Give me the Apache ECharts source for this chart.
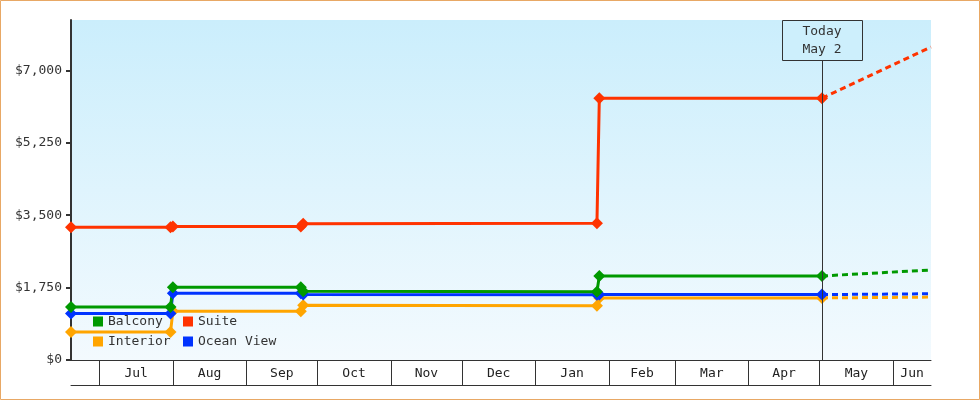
<!DOCTYPE html>
<html lang="en">
<head>
<meta charset="UTF-8">
<title>Cabin price history</title>
<script src="https://cdn.jsdelivr.net/npm/echarts@6/dist/echarts.min.js"></script>
<style>
  html, body { margin: 0; padding: 0; background: #fff; }
  #chart { width: 980px; height: 400px; }
</style>
</head>
<body>
<div id="chart"></div>
<script>
  // price history
  const dates = ['2022-06-19', '2022-07-31', '2022-08-01', '2022-09-24', '2022-09-25', '2023-01-27', '2023-01-28', '2023-05-02'];
  const balcony   = [1280, 1280, 1755, 1755, 1660, 1650, 2030, 2030];
  const suite     = [3210, 3210, 3225, 3225, 3290, 3305, 6325, 6325];
  const interior  = [675, 675, 1175, 1175, 1320, 1310, 1500, 1500];
  const oceanView = [1125, 1125, 1615, 1615, 1580, 1576, 1580, 1580];

  // forecast, today -> end of range
  const forecastDates = ['2023-05-02', '2023-06-17'];
  const balconyForecast   = [2030, 2175];
  const suiteForecast     = [6325, 7560];
  const interiorForecast  = [1500, 1520];
  const oceanViewForecast = [1580, 1600];

  const today = '2023-05-02';
  const todayText = 'Today\nMay 2';
  const rangeStart = '2022-06-19';
  const rangeEnd = '2023-06-17';
  const monthNames = ['Jul', 'Aug', 'Sep', 'Oct', 'Nov', 'Dec', 'Jan', 'Feb', 'Mar', 'Apr', 'May', 'Jun'];
  const yTicks = [0, 1750, 3500, 5250, 7000];
  const yMax = 8214;

  const font = 'DejaVu Sans Mono';
  const t = s => new Date(s + 'T00:00:00').getTime();
  const pairs = (ds, vs) => ds.map((d, i) => [t(d), vs[i]]);

  const tMin = t(rangeStart), tMax = t(rangeEnd);
  const monthStarts = [], monthMids = [];
  for (let i = 0; i < monthNames.length; i++) {
    const s = new Date(2022, 6 + i, 1).getTime();
    const e = new Date(2022, 7 + i, 1).getTime();
    monthStarts.push(s);
    monthMids.push((s + Math.min(e, tMax)) / 2);
  }

  const colors = { 'Balcony': '#009900', 'Suite': '#ff3300', 'Interior': '#ffa500', 'Ocean View': '#0033ff' };

  function history(name, vs) {
    return {
      name: name, type: 'line', data: pairs(dates, vs),
      symbol: 'diamond', symbolSize: 12,
      lineStyle: { width: 3, color: colors[name] },
      itemStyle: { color: colors[name], borderWidth: 0 }
    };
  }
  function forecast(name, vs) {
    return {
      name: name, type: 'line', data: pairs(forecastDates, vs),
      symbol: 'none',
      lineStyle: { width: 3, color: colors[name], type: [6, 4] },
      itemStyle: { color: colors[name] }
    };
  }

  // draw order: interior at the bottom, suite on top
  const series = [
    forecast('Interior', interiorForecast),
    history('Interior', interior),
    forecast('Ocean View', oceanViewForecast),
    history('Ocean View', oceanView),
    forecast('Balcony', balconyForecast),
    history('Balcony', balcony),
    forecast('Suite', suiteForecast),
    history('Suite', suite)
  ];
  series[0].markLine = {
    silent: true, symbol: 'none', animation: false,
    label: { show: false },
    lineStyle: { color: '#333', width: 1, type: 'solid' },
    data: [{ xAxis: t(today) }]
  };

  const legendBase = {
    orient: 'vertical', top: 315, padding: 0,
    itemWidth: 10, itemHeight: 10, itemGap: 7, icon: 'rect',
    textStyle: { fontFamily: font, fontSize: 13, color: '#333' }
  };

  const chart = echarts.init(document.getElementById('chart'));
  chart.setOption({
    animation: false,
    backgroundColor: '#fff',
    grid: {
      left: 71, right: 49, top: 20, bottom: 40, show: true, borderWidth: 0,
      backgroundColor: new echarts.graphic.LinearGradient(0, 0, 0, 1, [
        { offset: 0, color: '#cbeefc' },
        { offset: 1, color: '#f3fafe' }
      ])
    },
    legend: [
      Object.assign({ left: 93, data: ['Balcony', 'Interior'] }, legendBase),
      Object.assign({ left: 183, data: ['Suite', 'Ocean View'] }, legendBase)
    ],
    xAxis: [{
      type: 'value', min: tMin, max: tMax,
      axisLine: { show: true, lineStyle: { color: '#333', width: 1 } },
      axisTick: { show: true, customValues: monthStarts, length: 25, lineStyle: { color: '#333', width: 1 } },
      axisLabel: {
        customValues: monthMids, margin: 7,
        fontFamily: font, fontSize: 13, color: '#222',
        formatter: function (v) {
          let best = 0;
          monthMids.forEach((m, i) => { if (Math.abs(m - v) < Math.abs(monthMids[best] - v)) best = i; });
          return monthNames[best];
        }
      },
      splitLine: { show: false }
    }, {
      type: 'value', min: tMin, max: tMax, position: 'bottom', offset: 25,
      axisLine: { show: true, lineStyle: { color: '#333', width: 1 } },
      axisTick: { show: false }, axisLabel: { show: false }, splitLine: { show: false }
    }],
    yAxis: {
      type: 'value', min: 0, max: yMax, interval: 1750,
      axisLine: { show: true, lineStyle: { color: '#333', width: 2 } },
      axisTick: { show: true, customValues: yTicks, length: 5, lineStyle: { color: '#333', width: 2 } },
      axisLabel: {
        customValues: yTicks, margin: 9,
        fontFamily: font, fontSize: 13, color: '#333',
        formatter: v => '$' + v.toLocaleString('en-US')
      },
      splitLine: { show: false }
    },
    series: series
  });

  // "today" box sits on top of the marker line
  const px = chart.convertToPixel({ xAxisIndex: 0 }, t(today));
  const pyTop = chart.convertToPixel({ yAxisIndex: 0 }, yMax);
  chart.setOption({
    graphic: [{
      type: 'rect', silent: true,
      shape: { x: 0.5, y: 0.5, width: 979, height: 399 },
      style: { fill: 'none', stroke: '#e8a865', lineWidth: 1 }
    }, {
      type: 'rect', silent: true, z: 100,
      shape: { x: Math.round(px) - 39.5, y: pyTop + 0.5, width: 80, height: 40 },
      style: { fill: '#cdeffc', stroke: '#333', lineWidth: 1 }
    }, {
      type: 'text', silent: true, z: 101,
      x: px, y: pyTop + 3,
      style: { text: todayText, fontFamily: font, fontSize: 13, lineHeight: 18, fill: '#333', align: 'center', verticalAlign: 'top' }
    }]
  });
</script>
</body>
</html>
